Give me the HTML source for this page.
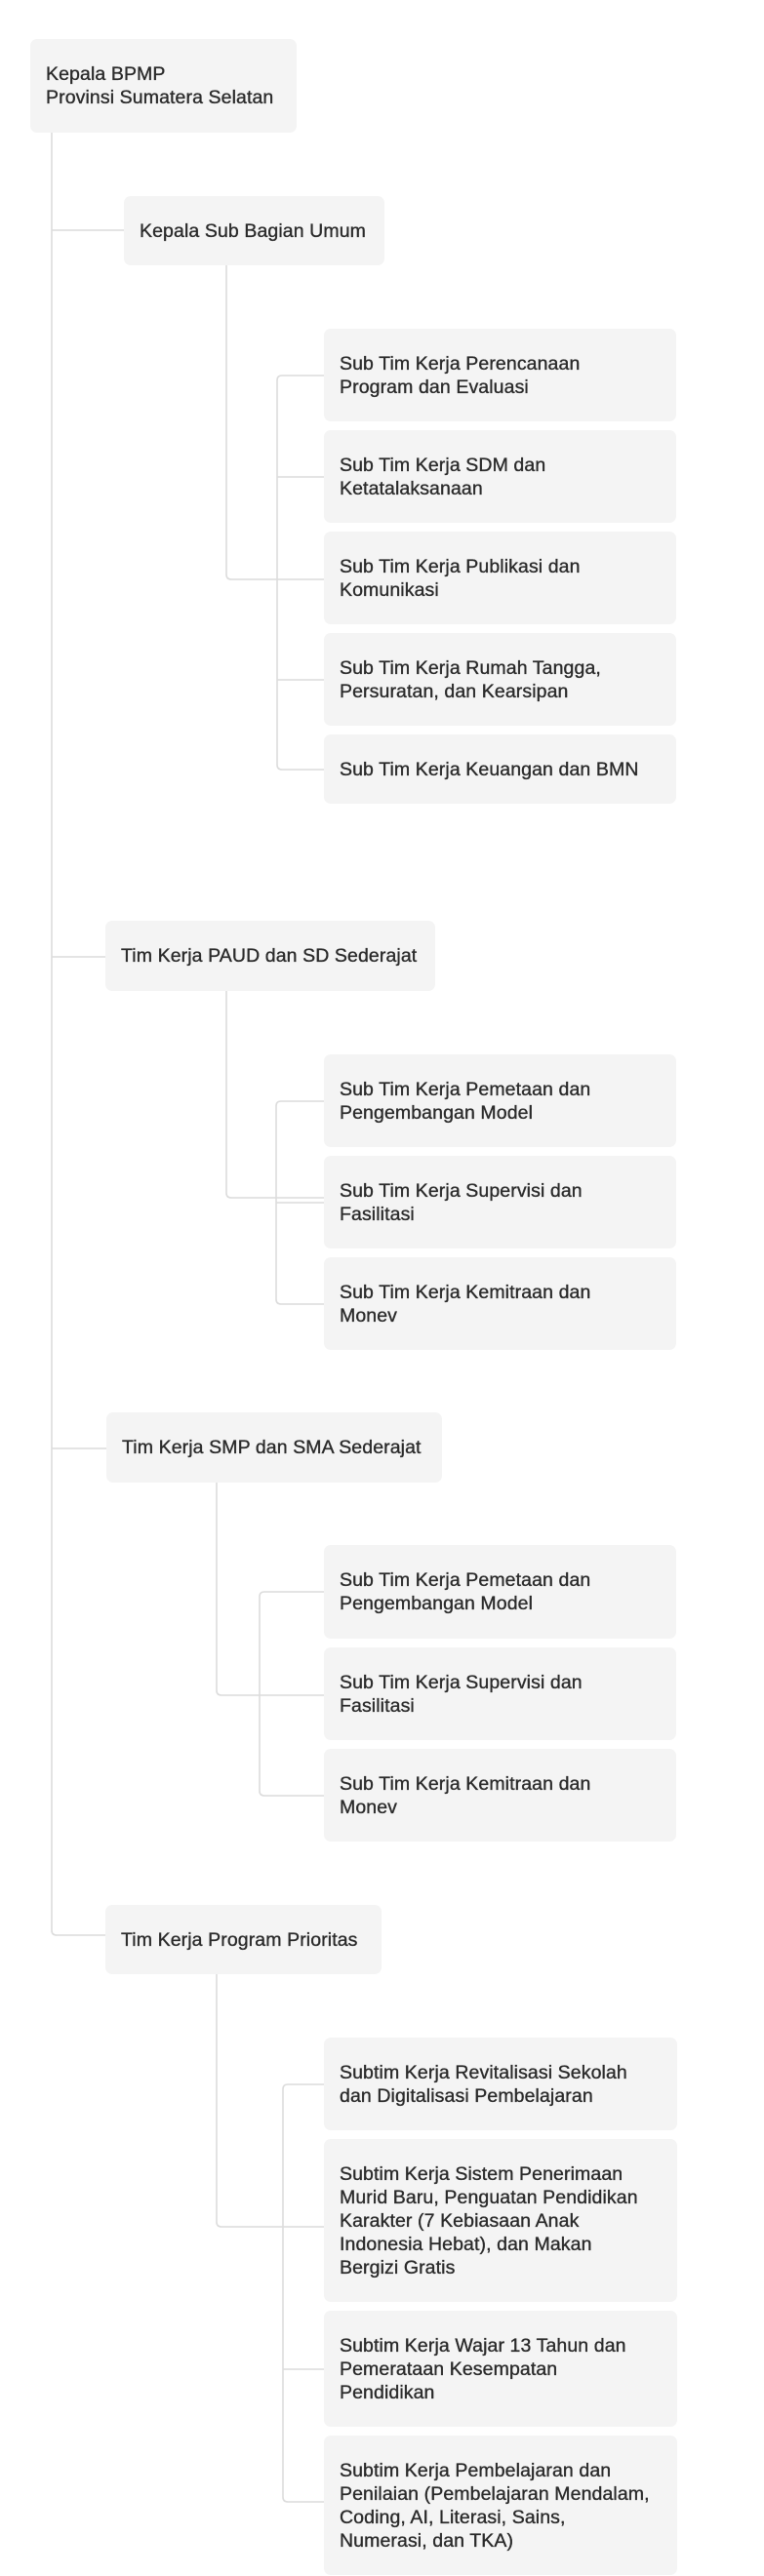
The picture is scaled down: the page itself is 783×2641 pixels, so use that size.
<!DOCTYPE html>
<html><head><meta charset="utf-8"><style>
html,body{margin:0;padding:0;background:#fff;}
body{width:783px;height:2641px;position:relative;overflow:hidden;font-family:"Liberation Sans",Arial,sans-serif;}
.b{position:absolute;background:#f4f4f4;border-radius:7px;box-sizing:border-box;padding-left:16px;display:flex;align-items:center;color:#2a2a2a;font-size:19.5px;line-height:24px;white-space:nowrap;-webkit-text-stroke:0.35px #2a2a2a;letter-spacing:0.1px;}
svg{position:absolute;left:0;top:0;}
</style></head><body>
<svg width="783" height="2641" viewBox="0 0 783 2641" fill="none" stroke="#dcdcdc" stroke-width="1.6">
<path d="M53 136 V1979 Q53 1984 58 1984 H108"/>
<path d="M53 236 H127"/><path d="M53 981 H108"/><path d="M53 1485 H109"/>
<path d="M232 272 V589 Q232 594 237 594 H332"/>
<path d="M332 385 H289 Q284 385 284 390 V784 Q284 789 289 789 H332"/>
<path d="M284 489 H332"/><path d="M284 697 H332"/>
<path d="M232 1016 V1223 Q232 1228 237 1228 H332"/>
<path d="M332 1129 H288 Q283 1129 283 1134 V1332 Q283 1337 288 1337 H332"/>
<path d="M283 1233 H332"/>
<path d="M222 1520 V1733 Q222 1738 227 1738 H332"/>
<path d="M332 1632 H271 Q266 1632 266 1637 V1836 Q266 1841 271 1841 H332"/>
<path d="M222 2024 V2278 Q222 2283 227 2283 H332"/>
<path d="M332 2137 H295 Q290 2137 290 2142 V2560 Q290 2565 295 2565 H332"/>
<path d="M290 2429 H332"/>
</svg>
<div class="b" style="left:31px;top:40px;width:273px;height:96px;">Kepala BPMP<br>Provinsi Sumatera Selatan</div>
<div class="b" style="left:127px;top:201px;width:267px;height:71px;">Kepala Sub Bagian Umum</div>
<div class="b" style="left:332px;top:337px;width:361px;height:95px;">Sub Tim Kerja Perencanaan<br>Program dan Evaluasi</div>
<div class="b" style="left:332px;top:441px;width:361px;height:95px;">Sub Tim Kerja SDM dan<br>Ketatalaksanaan</div>
<div class="b" style="left:332px;top:545px;width:361px;height:95px;">Sub Tim Kerja Publikasi dan<br>Komunikasi</div>
<div class="b" style="left:332px;top:649px;width:361px;height:95px;">Sub Tim Kerja Rumah Tangga,<br>Persuratan, dan Kearsipan</div>
<div class="b" style="left:332px;top:753px;width:361px;height:71px;">Sub Tim Kerja Keuangan dan BMN</div>

<div class="b" style="left:108px;top:944px;width:338px;height:72px;">Tim Kerja PAUD dan SD Sederajat</div>
<div class="b" style="left:332px;top:1081px;width:361px;height:95px;">Sub Tim Kerja Pemetaan dan<br>Pengembangan Model</div>
<div class="b" style="left:332px;top:1185px;width:361px;height:95px;">Sub Tim Kerja Supervisi dan<br>Fasilitasi</div>
<div class="b" style="left:332px;top:1289px;width:361px;height:95px;">Sub Tim Kerja Kemitraan dan<br>Monev</div>

<div class="b" style="left:109px;top:1448px;width:344px;height:72px;">Tim Kerja SMP dan SMA Sederajat</div>
<div class="b" style="left:332px;top:1584px;width:361px;height:96px;">Sub Tim Kerja Pemetaan dan<br>Pengembangan Model</div>
<div class="b" style="left:332px;top:1689px;width:361px;height:95px;">Sub Tim Kerja Supervisi dan<br>Fasilitasi</div>
<div class="b" style="left:332px;top:1793px;width:361px;height:95px;">Sub Tim Kerja Kemitraan dan<br>Monev</div>

<div class="b" style="left:108px;top:1953px;width:283px;height:71px;">Tim Kerja Program Prioritas</div>
<div class="b" style="left:332px;top:2089px;width:362px;height:95px;">Subtim Kerja Revitalisasi Sekolah<br>dan Digitalisasi Pembelajaran</div>
<div class="b" style="left:332px;top:2193px;width:362px;height:167px;">Subtim Kerja Sistem Penerimaan<br>Murid Baru, Penguatan Pendidikan<br>Karakter (7 Kebiasaan Anak<br>Indonesia Hebat), dan Makan<br>Bergizi Gratis</div>
<div class="b" style="left:332px;top:2369px;width:362px;height:119px;">Subtim Kerja Wajar 13 Tahun dan<br>Pemerataan Kesempatan<br>Pendidikan</div>
<div class="b" style="left:332px;top:2497px;width:362px;height:143px;">Subtim Kerja Pembelajaran dan<br>Penilaian (Pembelajaran Mendalam,<br>Coding, AI, Literasi, Sains,<br>Numerasi, dan TKA)</div>
</body></html>
